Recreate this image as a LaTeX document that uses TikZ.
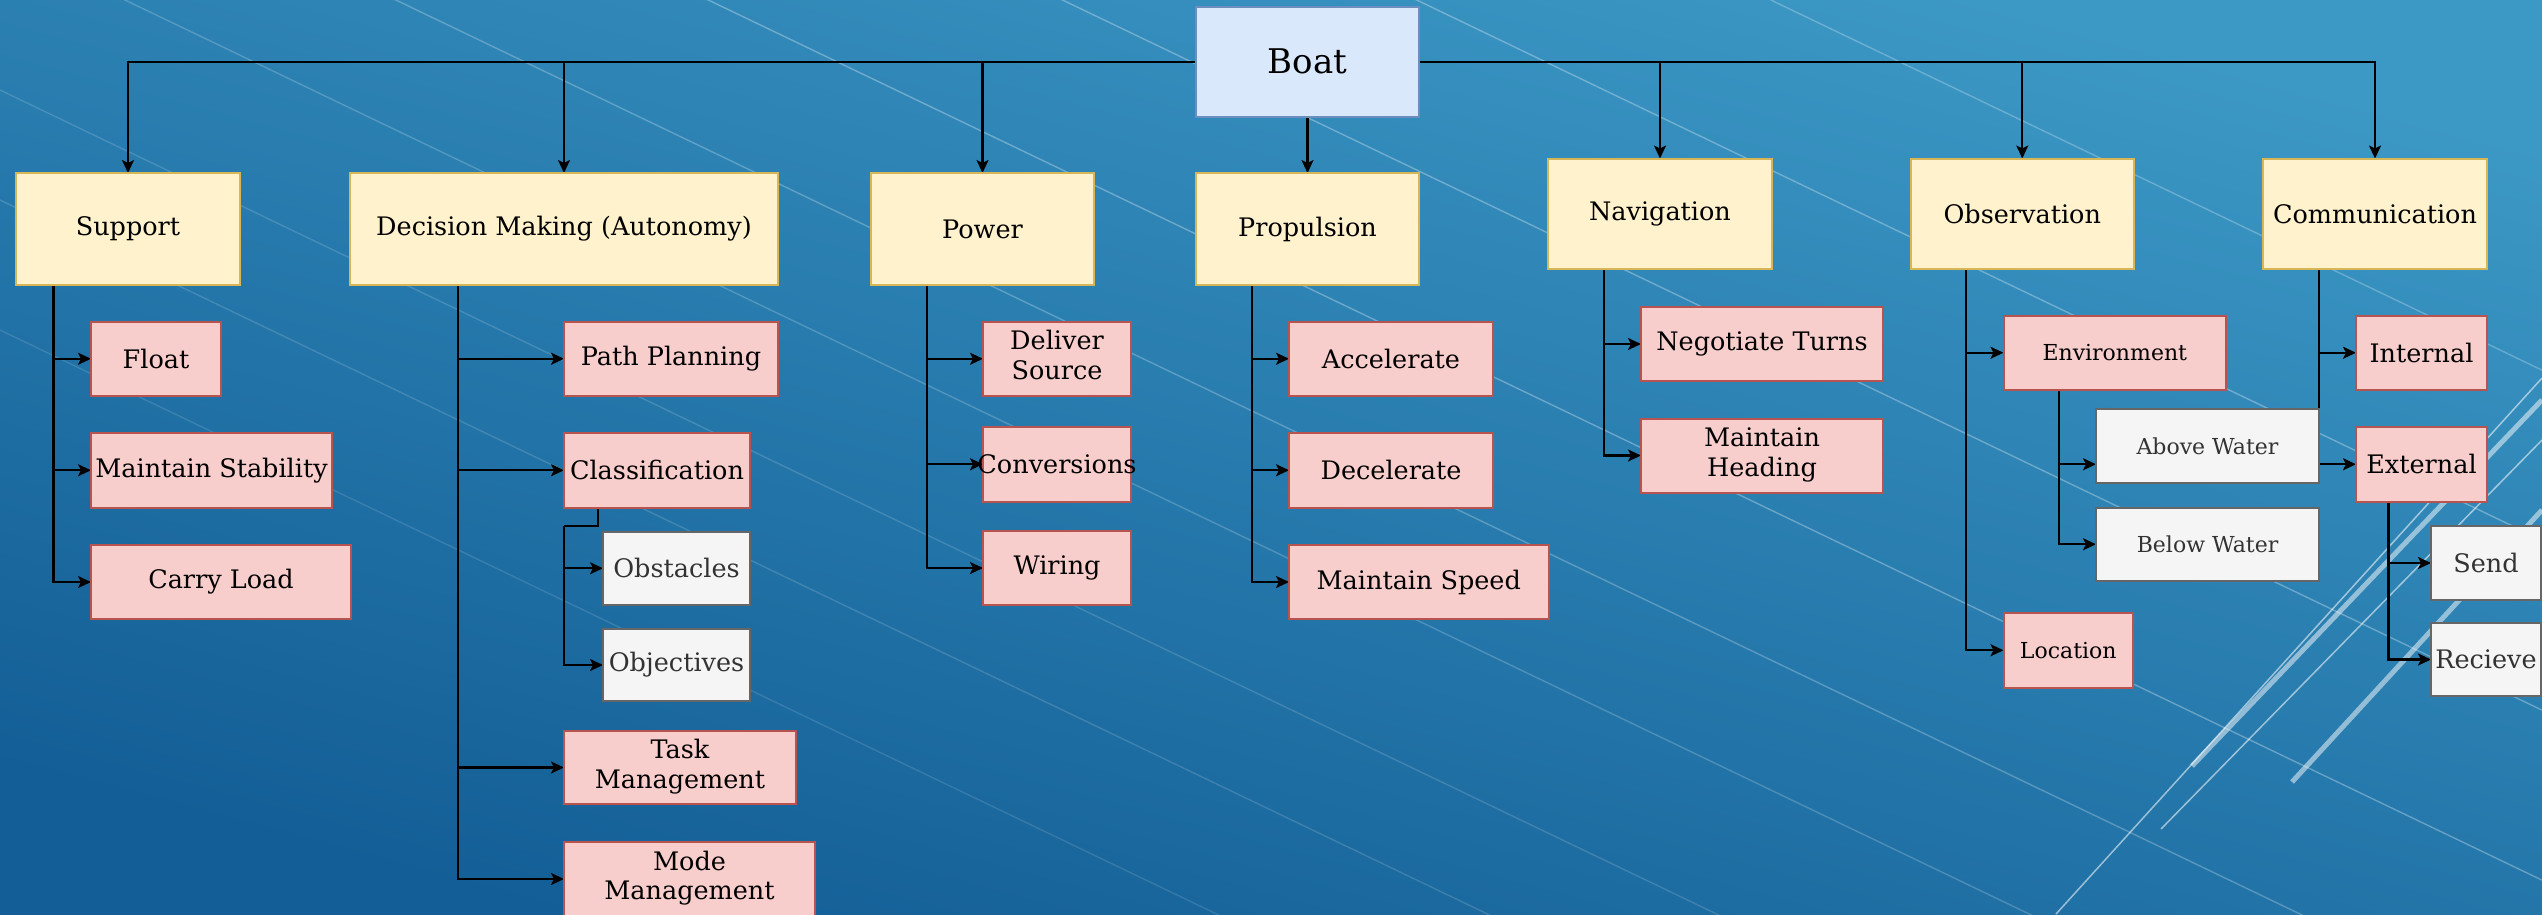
\documentclass[tikz,border=0pt]{standalone}
\usepackage{fontspec}
\setmainfont{DejaVu Serif}
\usetikzlibrary{arrows.meta}
\pgfdeclarelayer{bg}\pgfdeclarelayer{edges}\pgfsetlayers{bg,edges,main}
\definecolor{yfill}{HTML}{FFF2CC}\definecolor{ystroke}{HTML}{D6B656}
\definecolor{pfill}{HTML}{F8CECC}\definecolor{pstroke}{HTML}{B85450}
\definecolor{bfill}{HTML}{DAE8FC}\definecolor{bstroke}{HTML}{6C8EBF}
\definecolor{gfill}{HTML}{F5F5F5}\definecolor{gstroke}{HTML}{666666}
\definecolor{gtext}{HTML}{333333}
\definecolor{bglight}{HTML}{3C98C5}\definecolor{bgdark}{HTML}{135E96}
\newcommand\mybox[7]{%
 \pgfmathsetmacro\mbw{#5-#3}\pgfmathsetmacro\mbh{#6-#4}%
 \pgfmathsetmacro\mbx{(#3+#5)/2}\pgfmathsetmacro\mby{(#4+#6)/2}%
 \node[#1, minimum width=\mbw pt, minimum height=\mbh pt] (#2) at (\mbx,\mby) {\makebox[0pt]{#7}};}
\newcommand\two[2]{\begin{tabular}{@{}c@{}}#1\\#2\end{tabular}}
\begin{document}
\begin{tikzpicture}[x=1pt,y=-1pt,
  basebox/.style={line width=2pt, inner sep=0pt, outer sep=0pt},
  lvlzero/.style={basebox, draw=bstroke, fill=bfill, font=\fontsize{34}{40}\selectfont},
  lvlone/.style={basebox, draw=ystroke, fill=yfill, font=\fontsize{25.5}{29.5}\selectfont},
  lvltwo/.style={basebox, draw=pstroke, fill=pfill, font=\fontsize{25.5}{29.5}\selectfont},
  lvltwosmall/.style={lvltwo, font=\fontsize{22}{26}\selectfont},
  lvlthree/.style={basebox, draw=gstroke, fill=gfill, text=gtext, font=\fontsize{25.5}{29.5}\selectfont},
  lvlthreesmall/.style={lvlthree, font=\fontsize{22}{26}\selectfont},
  conn/.style={line width=2.2pt, black},
  arr/.style={conn, -{Stealth[length=13pt,width=12pt,inset=3pt]}},
  streak/.style={white, opacity=#1, line width=1.4pt},
  ionthick/.style={white, opacity=0.5, line width=5pt},
  ionthin/.style={white, opacity=0.55, line width=1.5pt}]
\useasboundingbox (0,0) rectangle (2542,914);
\begin{pgfonlayer}{bg}
\shade[shading=axis, top color=bglight, bottom color=bgdark, shading angle=-15] (0,0) rectangle (2542,914);
\begin{scope}
\clip (0,0) rectangle (2542,914);
\foreach \yz/\op in {-850/0.25,-680/0.3,-510/0.3,-340/0.3,-190/0.25,-60/0.2,90/0.15,200/0.15,330/0.12}{
  \draw[streak=\op] (0,\yz) -- (2542,{\yz+0.48*2542});
}
\draw[ionthick] (2192,766) -- (2542,400);
\draw[ionthick] (2292,782) -- (2542,510);
\draw[ionthin] (2161,829) -- (2542,440);
\draw[ionthin] (2056,914) -- (2542,378);
\end{scope}
\end{pgfonlayer}
% nodes
\mybox{lvlzero}{boat}{1196}{6.5}{1419}{117}{Boat}
\mybox{lvlone}{sup}{16}{173}{240}{285}{Support}
\mybox{lvlone}{dm}{350}{173}{778}{285}{Decision Making (Autonomy)}
\mybox{lvlone}{pow}{871}{173}{1094}{285}{Power}
\mybox{lvlone}{prop}{1196}{173}{1419}{285}{Propulsion}
\mybox{lvlone}{nav}{1548}{158.5}{1772}{269}{Navigation}
\mybox{lvlone}{obs}{1910.5}{158.5}{2134}{269}{Observation}
\mybox{lvlone}{com}{2263}{158.5}{2487}{269}{Communication}
\mybox{lvltwo}{float}{91}{321.5}{221}{396}{Float}
\mybox{lvltwo}{mstab}{91}{433}{332}{507.5}{Maintain Stability}
\mybox{lvltwo}{carry}{91}{545}{351}{619}{Carry Load}
\mybox{lvltwo}{pp}{564}{321.5}{778}{396}{Path Planning}
\mybox{lvltwo}{cls}{564}{433}{750}{507.5}{Classification}
\mybox{lvlthree}{obst}{603}{532}{750}{604.5}{Obstacles}
\mybox{lvlthree}{obj}{603}{629}{750}{701}{Objectives}
\mybox{lvltwo}{task}{564}{731}{796}{804}{\two{Task}{Management}}
\mybox{lvltwo}{mode}{564}{842}{815}{916}{\two{Mode}{Management}}
\mybox{lvltwo}{deliv}{983}{321.5}{1131}{396}{\two{Deliver}{Source}}
\mybox{lvltwo}{conv}{983}{427}{1131}{501.5}{Conversions}
\mybox{lvltwo}{wire}{983}{531}{1131}{605}{Wiring}
\mybox{lvltwo}{acc}{1289}{321.5}{1493}{396}{Accelerate}
\mybox{lvltwo}{dec}{1289}{433}{1493}{507.5}{Decelerate}
\mybox{lvltwo}{mspd}{1289}{545}{1548.5}{619}{Maintain Speed}
\mybox{lvltwo}{turns}{1641}{307}{1883}{381}{Negotiate Turns}
\mybox{lvltwo}{head}{1641}{418.5}{1883}{492.5}{\two{Maintain}{Heading}}
\mybox{lvltwosmall}{env}{2003.5}{315.5}{2226}{390}{Environment}
\mybox{lvlthreesmall}{above}{2096}{409}{2319}{483}{Above Water}
\mybox{lvlthreesmall}{below}{2096}{507.5}{2319}{581}{Below Water}
\mybox{lvltwosmall}{loc}{2003.5}{613}{2133}{687.5}{Location}
\mybox{lvltwo}{int}{2356}{315.5}{2487}{390}{Internal}
\mybox{lvltwo}{ext}{2356}{427}{2487}{501.5}{External}
\mybox{lvlthree}{send}{2431}{526}{2541}{600}{Send}
\mybox{lvlthree}{recv}{2431}{623}{2541}{696}{Recieve}
% connectors
\begin{pgfonlayer}{edges}
\draw[arr] (boat.west) -| (sup.north);
\draw[arr] (boat.west) -| (dm.north);
\draw[arr] (boat.west) -| (pow.north);
\draw[arr] (boat.south) -- (prop.north);
\draw[arr] (boat.east) -| (nav.north);
\draw[arr] (boat.east) -| (obs.north);
\draw[arr] (boat.east) -| (com.north);
\draw[arr] ([xshift=37.5pt]sup.south west) |- (float.west);
\draw[arr] ([xshift=37.5pt]sup.south west) |- (mstab.west);
\draw[arr] ([xshift=37.5pt]sup.south west) |- (carry.west);
\draw[arr] ([xshift=108pt]dm.south west) |- (pp.west);
\draw[arr] ([xshift=108pt]dm.south west) |- (cls.west);
\draw[arr] ([xshift=108pt]dm.south west) |- (task.west);
\draw[arr] ([xshift=108pt]dm.south west) |- (mode.west);
\coordinate (cj) at ([yshift=-18.5pt]cls.south west);
\draw[conn] ([xshift=34pt]cls.south west) |- (cj);
\draw[arr] (cj) |- (obst.west);
\draw[arr] (cj) |- (obj.west);
\draw[arr] ([xshift=56pt]pow.south west) |- (deliv.west);
\draw[arr] ([xshift=56pt]pow.south west) |- (conv.west);
\draw[arr] ([xshift=56pt]pow.south west) |- (wire.west);
\draw[arr] ([xshift=55.6pt]prop.south west) |- (acc.west);
\draw[arr] ([xshift=55.6pt]prop.south west) |- (dec.west);
\draw[arr] ([xshift=55.6pt]prop.south west) |- (mspd.west);
\draw[arr] ([xshift=56pt]nav.south west) |- (turns.west);
\draw[arr] ([xshift=56pt]nav.south west) |- (head.west);
\draw[arr] ([xshift=55.5pt]obs.south west) |- (env.west);
\draw[arr] ([xshift=55.5pt]obs.south west) |- (loc.west);
\draw[arr] ([xshift=55.3pt]env.south west) |- (above.west |- ext.west);
\draw[arr] ([xshift=55.3pt]env.south west) |- (below.west);
\draw[arr] ([xshift=56pt]com.south west) |- (int.west);
\draw[arr] ([xshift=56pt]com.south west) |- (ext.west);
\draw[arr] ([xshift=32.5pt]ext.south west) |- (send.west);
\draw[arr] ([xshift=32.5pt]ext.south west) |- (recv.west);
\end{pgfonlayer}
\end{tikzpicture}
\end{document}
